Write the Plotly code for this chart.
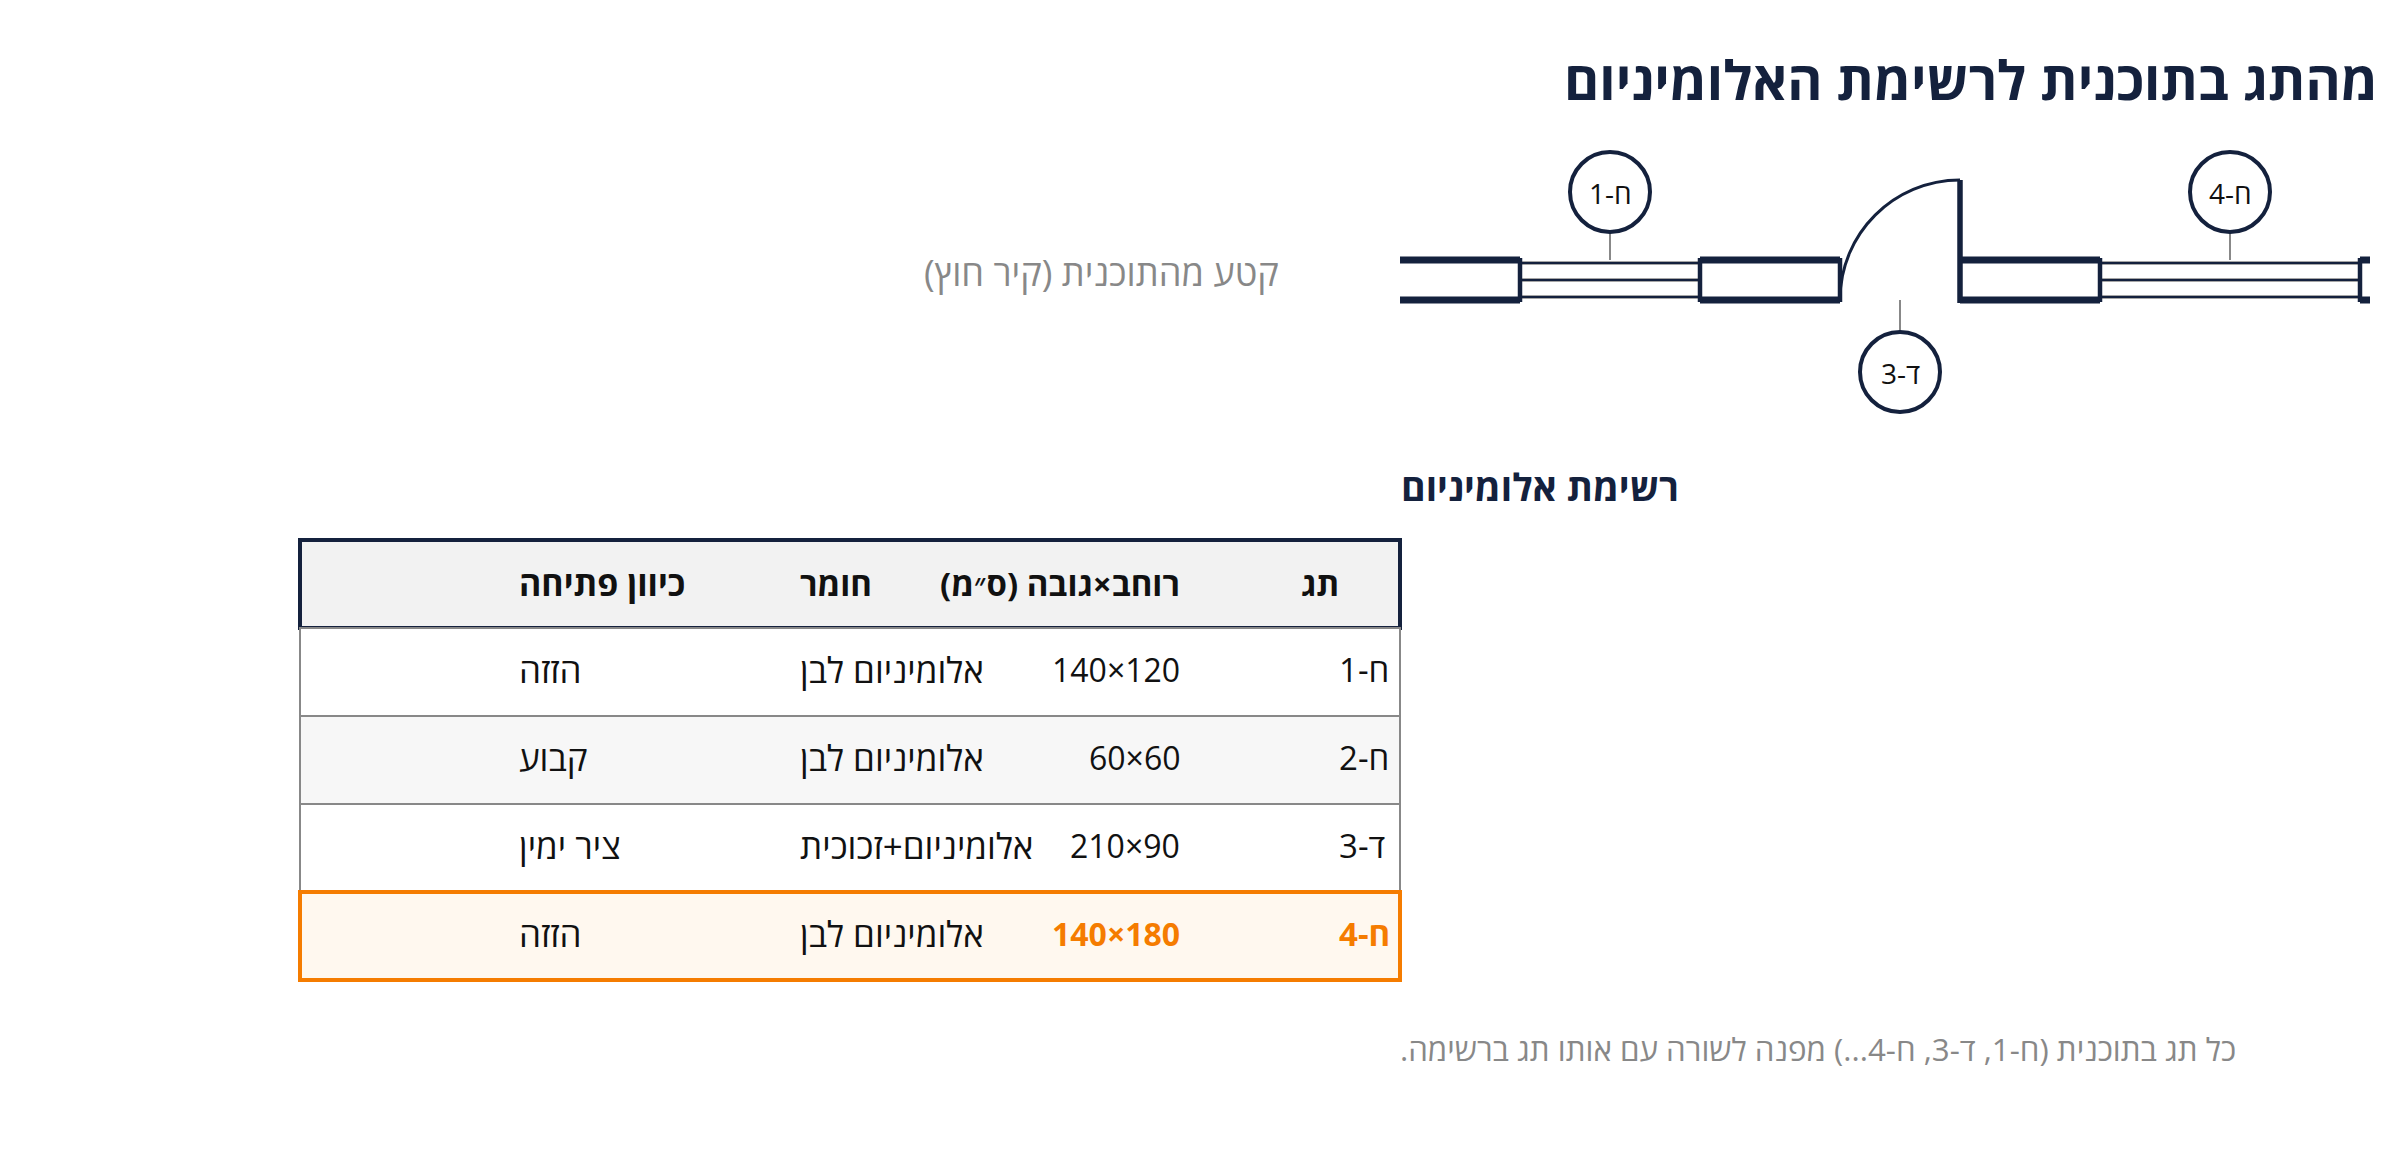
import plotly.graph_objects as go

# table content
headers = ["תג", "רוחב×גובה (ס״מ)", "חומר", "כיוון פתיחה"]
tags = ["ח-1", "ח-2", "ד-3", "ח-4"]
sizes = ["140×120", "60×60", "210×90", "140×180"]
materials = ["אלומיניום לבן", "אלומיניום לבן", "אלומיניום+זכוכית", "אלומיניום לבן"]
directions = ["הזזה", "קבוע", "ציר ימין", "הזזה"]
highlight_row = 3

# plan callouts
callout_tags = ["ח-1", "ד-3", "ח-4"]

title = "מהתג בתוכנית לרשימת האלומיניום"
plan_note = "קטע מהתוכנית (קיר חוץ)"
list_title = "רשימת אלומיניום"
footer = "כל תג בתוכנית (ח-1, ד-3, ח-4...) מפנה לשורה עם אותו תג ברשימה."

NAVY = "#14213d"
GRAY = "#888888"
ORANGE = "#f57c00"
INK = "#111111"
FONT = "Open Sans"

# layout of the drawing, in page pixels
table_x0, table_x1 = 300, 1400
header_y0, header_y1 = 540, 628
row_h = 88
row_fills = ["#ffffff", "#f7f7f7", "#ffffff", "#fff8ef"]
wall_top, wall_bot = 260, 300
wall_spans = [(1400, 1520), (1700, 1840), (1960, 2100), (2360, 2370)]
window_spans = [(1520, 1700), (2100, 2360)]
window_rows = [263, 280, 297]
jambs = [1520, 1700, 1840, 2100, 2360]
callout_x = [1610, 1900, 2230]
callout_y = [192, 372, 192]
callout_leader = [(232, 260), (300, 332), (232, 260)]


def rtl(s):
    return "\u200f" + s + "\u200f"


def line(x0, y0, x1, y1, color, width):
    return dict(type="line", xref="x", yref="y", x0=x0, y0=y0, x1=x1, y1=y1,
                line=dict(color=color, width=width))


def label(x, y, text, size, color=INK, anchor="left", bold=False, bidi=True):
    return dict(x=x, y=y, xref="x", yref="y", text=rtl(text) if bidi else text, showarrow=False,
                xanchor=anchor, yanchor="middle", borderpad=0,
                font=dict(family=FONT, size=size, color=color, weight=700 if bold else 400))


shapes = []
notes = []

# windows
for x0, x1 in window_spans:
    for y in window_rows:
        shapes.append(line(x0, y, x1, y, GRAY, 3.5))
        shapes.append(line(x0, y, x1, y, NAVY, 2))

# walls
for x0, x1 in wall_spans:
    shapes.append(line(x0, wall_top, x1, wall_top, NAVY, 7))
    shapes.append(line(x0, wall_bot, x1, wall_bot, NAVY, 7))
for x in jambs:
    shapes.append(line(x, wall_top - 2, x, wall_bot + 2, NAVY, 4.5))

# door leaf and swing
shapes.append(line(1960, 180, 1960, 303, NAVY, 5.5))
shapes.append(dict(type="path", xref="x", yref="y", path="M 1840 300 C 1840 233.7 1893.7 180 1960 180",
                   line=dict(color=NAVY, width=3)))

# callouts
for i in range(len(callout_tags)):
    cx, cy = callout_x[i], callout_y[i]
    y0, y1 = callout_leader[i]
    shapes.append(line(cx, y0, cx, y1, GRAY, 2))
    shapes.append(dict(type="circle", xref="x", yref="y", x0=cx - 40, x1=cx + 40, y0=cy - 40, y1=cy + 40,
                       fillcolor="#ffffff", line=dict(color=NAVY, width=4)))
    notes.append(label(cx, cy + 1, callout_tags[i], 28, anchor="center"))

# table
shapes.append(dict(type="rect", xref="x", yref="y", x0=table_x0, x1=table_x1, y0=header_y0, y1=header_y1,
                   fillcolor="#f2f2f2", line=dict(color=NAVY, width=4)))
for i in range(len(tags)):
    top = header_y1 + i * row_h
    is_hl = i == highlight_row
    shapes.append(dict(type="rect", xref="x", yref="y", x0=table_x0, x1=table_x1, y0=top, y1=top + row_h,
                       fillcolor=row_fills[i],
                       line=dict(color=ORANGE if is_hl else GRAY, width=4 if is_hl else 2)))
    mid = top + row_h / 2 - 3
    hl_color = ORANGE if is_hl else INK
    notes.append(label(1338, mid, tags[i], 33, hl_color, "left", is_hl))
    notes.append(label(1181, mid, sizes[i], 32, hl_color, "right", is_hl, bidi=False))
    notes.append(label(799, mid, materials[i], 35))
    notes.append(label(518, mid, directions[i], 35))

head_mid = (header_y0 + header_y1) / 2 - 1
notes.append(label(1340, head_mid, headers[0], 33, anchor="right", bold=True))
notes.append(label(1181, head_mid, headers[1], 33, anchor="right", bold=True))
notes.append(label(799, head_mid, headers[2], 33, anchor="left", bold=True))
notes.append(label(518, head_mid, headers[3], 34, anchor="left", bold=True))

# page texts
notes.append(label(2379, 79, title, 53.7, NAVY, "right", True))
notes.append(label(1280, 272, plan_note, 36.2, GRAY, "right"))
notes.append(label(1400, 486, list_title, 37.5, NAVY, "left", True))
notes.append(label(1399, 1049, footer, 31.3, GRAY, "left"))

fig = go.Figure()
fig.update_layout(width=2400, height=1160, margin=dict(l=0, r=0, t=0, b=0),
                  paper_bgcolor="#ffffff", plot_bgcolor="#ffffff",
                  shapes=shapes, annotations=notes, showlegend=False)
fig.update_xaxes(range=[0, 2400], visible=False)
fig.update_yaxes(range=[1160, 0], visible=False)
fig.write_html("out.html", config=dict(displayModeBar=False), post_script="document.body.style.margin='0';")
